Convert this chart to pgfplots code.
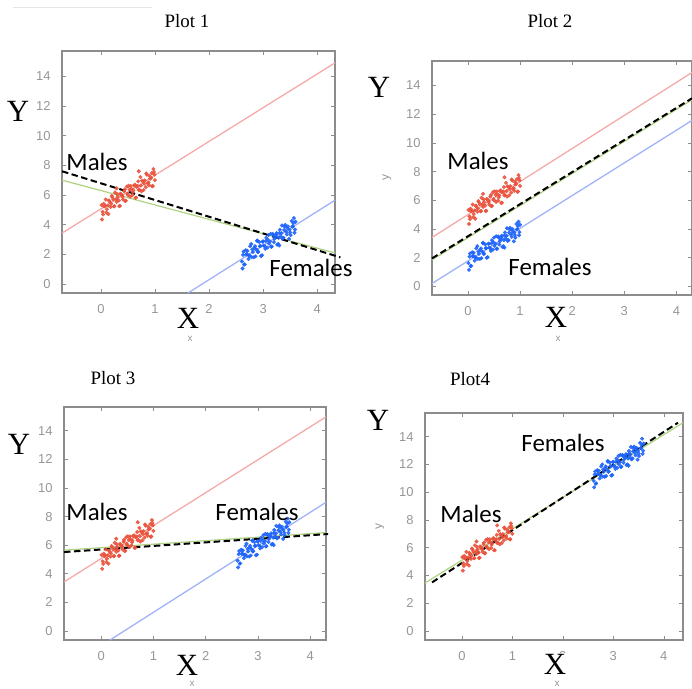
\documentclass[border=0pt]{standalone}
\usepackage{fontspec}
\setmainfont{Liberation Serif}
\newfontfamily\sansf{Liberation Sans}
\newfontfamily\calib{Carlito}
\usepackage{pgfplots}
\usepackage{pgfplotstable}
\pgfplotsset{compat=1.18}

\definecolor{ptred}{RGB}{234,82,60}
\definecolor{ptblue}{RGB}{30,100,250}
\definecolor{lnred}{RGB}{245,170,168}
\definecolor{lnblue}{RGB}{160,178,250}
\definecolor{lngreen}{RGB}{175,210,130}
\definecolor{frame}{RGB}{140,140,140}
\definecolor{tlab}{RGB}{150,150,150}

% x, y of the male cloud; xb and y1..y4 the female cloud in plots 1-4
\pgfplotstableread{
x    xb   yr   y1   y2   y3   y4
0.01 2.61 5.32 1.52 1.62 4.92 10.82
0.04 2.64 4.69 2.19 2.29 5.59 11.49
0.06 2.66 5.23 1.33 1.43 4.73 10.63
0.09 2.69 5.70 2.00 2.10 5.40 11.30
0.11 2.71 5.04 2.24 2.34 5.64 11.54
0.14 2.74 4.71 1.91 2.01 5.31 11.21
0.16 2.76 5.55 2.55 2.65 5.95 11.85
0.19 2.79 5.42 1.82 1.92 5.22 11.12
0.21 2.81 5.86 2.16 2.26 5.56 11.46
0.24 2.84 5.23 2.43 2.53 5.83 11.73
0.26 2.86 6.17 1.87 1.97 5.27 11.17
0.29 2.89 5.54 2.94 3.04 6.34 12.24
0.31 2.91 5.88 2.18 2.28 5.58 11.48
0.34 2.94 5.25 2.55 2.65 5.95 11.85
0.36 2.96 6.09 1.89 1.99 5.29 11.19
0.39 2.99 5.96 2.86 2.96 6.26 12.16
0.41 3.01 5.70 2.60 2.70 6.00 11.90
0.44 3.04 6.37 2.37 2.47 5.77 11.67
0.46 3.06 5.61 3.11 3.21 6.51 12.41
0.49 3.09 6.08 2.98 3.08 6.38 12.28
0.51 3.11 6.62 2.72 2.82 6.12 12.02
0.54 3.14 5.89 3.39 3.49 6.79 12.69
0.56 3.16 6.43 2.53 2.63 5.93 11.83
0.59 3.19 6.20 3.30 3.40 6.70 12.60
0.61 3.21 6.64 3.04 3.14 6.44 12.34
0.64 3.24 5.81 3.31 3.41 6.71 12.61
0.66 3.26 6.55 2.65 2.75 6.05 11.95
0.69 3.29 6.92 3.12 3.22 6.52 12.42
0.71 3.31 6.36 3.66 3.76 7.06 12.96
0.74 3.34 6.63 3.43 3.53 6.83 12.73
0.76 3.36 6.97 3.07 3.17 6.47 12.37
0.79 3.39 6.34 3.64 3.74 7.04 12.94
0.81 3.41 6.98 3.98 4.08 7.38 13.28
0.84 3.44 7.45 3.35 3.45 6.75 12.65
0.86 3.46 6.79 3.89 3.99 7.29 13.19
0.89 3.49 6.66 3.66 3.76 7.06 12.96
0.91 3.51 7.10 3.30 3.40 6.70 12.60
0.94 3.54 7.47 3.87 3.97 7.27 13.17
0.96 3.56 6.61 4.11 4.21 7.51 13.41
0.99 3.59 7.38 3.68 3.78 7.08 12.98
0.03 2.63 4.87 1.97 2.07 5.37 11.27
0.05 2.65 5.41 1.31 1.41 4.71 10.61
0.08 2.68 5.28 2.28 2.38 5.68 11.58
0.10 2.70 4.82 2.02 2.12 5.42 11.32
0.13 2.73 5.29 1.69 1.79 5.09 10.99
0.15 2.75 5.63 1.93 2.03 5.33 11.23
0.18 2.78 5.20 2.70 2.80 6.10 12.00
0.20 2.80 5.94 2.34 2.44 5.74 11.64
0.23 2.83 5.71 1.81 1.91 5.21 11.11
0.25 2.85 5.25 2.55 2.65 5.95 11.85
0.28 2.88 5.72 2.32 2.42 5.72 11.62
0.30 2.90 6.06 2.16 2.26 5.56 11.46
0.33 2.93 5.63 2.83 2.93 6.23 12.13
0.35 2.95 5.27 2.57 2.67 5.97 11.87
0.38 2.98 6.04 1.94 2.04 5.34 11.24
0.40 3.00 5.88 2.88 2.98 6.28 12.18
0.43 3.03 6.25 2.55 2.65 5.95 11.85
0.45 3.05 5.59 2.89 2.99 6.29 12.19
0.48 3.08 6.56 2.46 2.56 5.86 11.76
0.50 3.10 6.00 3.30 3.40 6.70 12.60
0.53 3.13 6.37 2.87 2.97 6.27 12.17
0.55 3.15 6.61 2.51 2.61 5.91 11.81
0.58 3.18 5.98 3.38 3.48 6.78 12.68
0.60 3.20 6.32 2.82 2.92 6.22 12.12
0.63 3.23 6.69 3.19 3.29 6.59 12.49
0.65 3.25 5.83 3.43 3.53 6.83 12.73
0.68 3.28 6.60 2.70 2.80 6.10 12.00
0.70 3.30 6.34 3.44 3.54 6.84 12.74
0.73 3.33 7.21 3.21 3.31 6.61 12.51
0.75 3.35 6.25 3.95 4.05 7.35 13.25
0.78 3.38 6.92 3.12 3.22 6.52 12.42
0.80 3.40 6.76 3.86 3.96 7.26 13.16
0.83 3.43 6.53 3.53 3.63 6.93 12.83
0.85 3.45 7.37 3.77 3.87 7.17 13.07
0.88 3.48 6.84 3.04 3.14 6.44 12.34
0.90 3.50 7.28 3.48 3.58 6.88 12.78
0.93 3.53 7.15 4.25 4.35 7.65 13.55
0.95 3.55 6.59 3.89 3.99 7.29 13.19
0.98 3.58 7.56 3.46 3.56 6.86 12.76
1.00 3.60 7.00 4.20 4.30 7.60 13.50
0.02 2.62 4.35 1.05 1.15 4.45 10.35
0.29 2.89 6.45 2.90 3.00 6.30 12.20
0.97 3.57 7.75 4.45 4.50 7.85 13.85
0.70 3.30 7.60 2.60 2.70 6.00 11.90
}\pts

\pgfplotsset{
  panel/.style={
    scale only axis, anchor=north west, clip=false,
    axis line style={draw=frame, line width=1.1pt},
    tick style={frame, line width=0.6pt},
    tick align=inside, tick pos=both, major tick length=4bp,
    xtick={0,...,4}, ytick={0,2,...,14},
    ticklabel style={font=\sansf\fontsize{13}{13}\selectfont, text=tlab},
    xticklabel style={yshift=-8bp},
    yticklabel style={xshift=-8bp},
    /pgf/number format/assume math mode=true,
    ylabel style={font=\sansf\fontsize{12}{12}\selectfont, text=tlab},
    ylabel shift=8bp,
  },
  males/.style={only marks, mark=*, mark size=1.8pt, color=ptred, opacity=0.9},
  females/.style={only marks, mark=*, mark size=1.8pt, color=ptblue, opacity=0.9},
  fit/.style={black, line width=2pt, dash pattern=on 6.5bp off 3.5bp},
  regline/.style={line width=1.3pt},
}

\begin{document}
\begin{tikzpicture}
\path[use as bounding box] (0,0) rectangle (692bp,-689bp);
\draw[gray!20, line width=0.6pt] (13bp,-7bp) -- (152bp,-7bp);

% Plot 1
\begin{axis}[panel, at={(62bp,-51bp)}, width=273bp, height=242bp,
  xmin=-0.72, xmax=4.33, ymin=-0.6, ymax=15.7]
\addplot[lnred, regline] coordinates {(-0.72,3.43) (4.33,14.9)};
\addplot[lnblue, regline] coordinates {(1.61,-0.6) (4.33,5.65)};
\addplot[males] table[x=x, y=yr] {\pts};
\addplot[females] table[x=xb, y=y1] {\pts};
\addplot[lngreen, line width=1.2pt] coordinates {(-0.72,7.0) (4.33,2.1)};
\addplot[fit] coordinates {(-0.72,7.6) (4.43,1.8)};
\end{axis}

% Plot 2
\begin{axis}[panel, at={(432bp,-61bp)}, width=260bp, height=234bp,
  xmin=-0.69, xmax=4.3, ymin=-0.6, ymax=15.7, ylabel={y}]
\addplot[lnred, regline] coordinates {(-0.69,3.41) (4.3,14.9)};
\addplot[lnblue, regline] coordinates {(-0.69,0.2) (4.3,11.56)};
\addplot[males] table[x=x, y=yr] {\pts};
\addplot[females] table[x=x, y=y2] {\pts};
\addplot[lngreen, line width=1.2pt] coordinates {(-0.69,1.85) (4.3,13.0)};
\addplot[fit] coordinates {(-0.69,1.95) (4.3,13.1)};
\end{axis}

% Plot 3
\begin{axis}[panel, at={(64bp,-407bp)}, width=262bp, height=233bp,
  xmin=-0.71, xmax=4.3, ymin=-0.63, ymax=15.66]
\addplot[lnred, regline] coordinates {(-0.71,3.43) (4.3,14.97)};
\addplot[lnblue, regline] coordinates {(0.17,-0.63) (4.3,9.0)};
\addplot[males] table[x=x, y=yr] {\pts};
\addplot[females] table[x=xb, y=y3] {\pts};
\addplot[lngreen, line width=1.2pt] coordinates {(-0.71,5.65) (4.3,6.88)};
\addplot[fit] coordinates {(-0.71,5.52) (4.34,6.78)};
\end{axis}

% Plot 4
\begin{axis}[panel, at={(425bp,-413bp)}, width=258bp, height=227bp,
  xmin=-0.73, xmax=4.38, ymin=-0.65, ymax=15.7, ylabel={y}]
\addplot[males] table[x=x, y=yr] {\pts};
\addplot[females] table[x=xb, y=y4] {\pts};
\addplot[lngreen, line width=1.2pt] coordinates {(-0.73,3.45) (4.38,15.0)};
\addplot[fit] coordinates {(-0.59,3.5) (4.28,15.0)};
\end{axis}

% small axis names
\foreach \cx/\cy in {190/339, 558/339, 192/684, 557/684}
  \node[font=\sansf\fontsize{10}{10}\selectfont, text=tlab, inner sep=0pt] at (\cx bp,-\cy bp) {x};

% titles
\node[font=\fontsize{19}{19}\selectfont] at (187bp,-21bp) {Plot 1};
\node[font=\fontsize{19}{19}\selectfont] at (550bp,-21bp) {Plot 2};
\node[font=\fontsize{19}{19}\selectfont] at (113bp,-378bp) {Plot 3};
\node[font=\fontsize{19}{19}\selectfont] at (470bp,-379bp) {Plot4};

% big axis letters
\foreach \cx/\cy in {18/111, 379/87, 19/444, 378/420}
  \node[font=\fontsize{31}{31}\selectfont, inner sep=0pt] at (\cx bp,-\cy bp) {Y};
\foreach \cx/\cy in {188/318, 556/317, 187/665, 555/664}
  \node[font=\fontsize{31}{31}\selectfont, inner sep=0.5pt, fill=white] at (\cx bp,-\cy bp) {X};

% group names
\tikzset{grp/.style={font=\calib\fontsize{25}{25}\selectfont, inner sep=0pt}}
\node[grp] at (97bp,-162bp) {Males};
\node[grp] at (311bp,-268bp) {Females};
\node[grp] at (478bp,-161bp) {Males};
\node[grp] at (550bp,-267bp) {Females};
\node[grp] at (97bp,-512bp) {Males};
\node[grp] at (257bp,-512bp) {Females};
\node[grp] at (471bp,-514bp) {Males};
\node[grp] at (563bp,-443bp) {Females};
\end{tikzpicture}
\end{document}
